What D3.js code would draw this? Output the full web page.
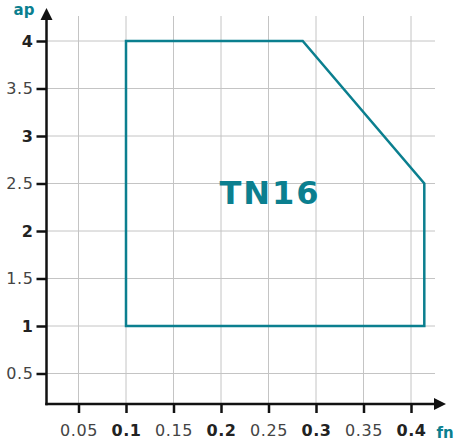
<!DOCTYPE html>
<html><head><meta charset="utf-8">
<script src="https://cdn.jsdelivr.net/npm/d3@7"></script>
<style>body{margin:0;background:#fff}</style>
</head><body>
<svg id="c" width="454" height="445"></svg>
<script>
const xTicks = [0.05, 0.1, 0.15, 0.2, 0.25, 0.3, 0.35, 0.4];
const yTicks = [0.5, 1, 1.5, 2, 2.5, 3, 3.5, 4];
const boldX = [0.1, 0.2, 0.3, 0.4];
const boldY = [1, 2, 3, 4];
const fnValues = [0.1, 0.1, 0.286, 0.414, 0.414];
const apValues = [1, 4, 4, 2.5, 1];
const seriesName = "TN16";
const xLabel = "fn", yLabel = "ap";

const teal = "#0b7f8f";
const svg = d3.select("#c");
const x = d3.scaleLinear().domain([0.1, 0.4]).range([126, 411]);
const y = d3.scaleLinear().domain([1, 4]).range([326, 41]);
const x0 = 46.5, y0 = 404;
const font = "'DejaVu Sans', sans-serif";

// grid
svg.append("g").selectAll("line").data(xTicks).join("line")
  .attr("x1", d => x(d)).attr("x2", d => x(d)).attr("y1", 16).attr("y2", y0)
  .attr("stroke", "#c4c4c4").attr("stroke-width", 1);
svg.append("g").selectAll("line").data(yTicks).join("line")
  .attr("y1", d => y(d)).attr("y2", d => y(d)).attr("x1", x0).attr("x2", 435)
  .attr("stroke", "#c4c4c4").attr("stroke-width", 1);

// polygon
const pts = fnValues.map((v, i) => [x(v), y(apValues[i])]);
svg.append("path").attr("d", d3.line()(pts) + "Z")
  .attr("fill", "none").attr("stroke", teal).attr("stroke-width", 2.5);

// axes
const xAxis = d3.axisBottom(x).tickValues(xTicks).tickSize(9).tickFormat(d => d);
const gx = svg.append("g").attr("transform", `translate(0,${y0})`).call(xAxis);
gx.select(".domain").remove();
gx.selectAll(".tick line").attr("stroke", "#111").attr("stroke-width", 2.5);
gx.selectAll(".tick text").attr("y", 21).attr("font-size", 16).attr("font-family", font)
  .attr("letter-spacing", 0.6)
  .attr("fill", d => boldX.includes(d) ? "#222" : "#444")
  .attr("font-weight", d => boldX.includes(d) ? "bold" : "normal");

const yAxis = d3.axisLeft(y).tickValues(yTicks).tickSize(10).tickFormat(d => d);
const gy = svg.append("g").attr("transform", `translate(${x0},0)`).call(yAxis);
gy.select(".domain").remove();
gy.selectAll(".tick line").attr("stroke", "#111").attr("stroke-width", 2.5);
gy.selectAll(".tick text").attr("x", -13).attr("font-size", 16).attr("font-family", font)
  .attr("letter-spacing", 0.6)
  .attr("fill", d => boldY.includes(d) ? "#222" : "#444")
  .attr("font-weight", d => boldY.includes(d) ? "bold" : "normal");

svg.append("line").attr("x1", x0).attr("x2", x0).attr("y1", y0 + 1.2).attr("y2", 16)
  .attr("stroke", "#111").attr("stroke-width", 2.5);
svg.append("line").attr("x1", x0 - 1.2).attr("x2", 438).attr("y1", y0).attr("y2", y0)
  .attr("stroke", "#111").attr("stroke-width", 2.5);
svg.append("path").attr("d", `M${x0},8 L${x0 - 6},20 L${x0 + 6},20 Z`).attr("fill", "#111");
svg.append("path").attr("d", `M446,${y0} L434,${y0 - 6} L434,${y0 + 6} Z`).attr("fill", "#111");

svg.append("text").attr("x", 24).attr("y", 15).attr("text-anchor", "middle")
  .attr("font-family", font).attr("font-weight", "bold").attr("font-size", 15)
  .attr("fill", teal).text(yLabel);
svg.append("text").attr("x", 445).attr("y", 438).attr("text-anchor", "middle")
  .attr("font-family", font).attr("font-weight", "bold").attr("font-size", 15)
  .attr("fill", teal).text(xLabel);

svg.append("text").attr("x", 270).attr("y", 204).attr("text-anchor", "middle")
  .attr("font-family", font).attr("font-weight", "bold").attr("font-size", 32)
  .attr("letter-spacing", 2).attr("fill", teal).text(seriesName);
</script>
</body></html>
